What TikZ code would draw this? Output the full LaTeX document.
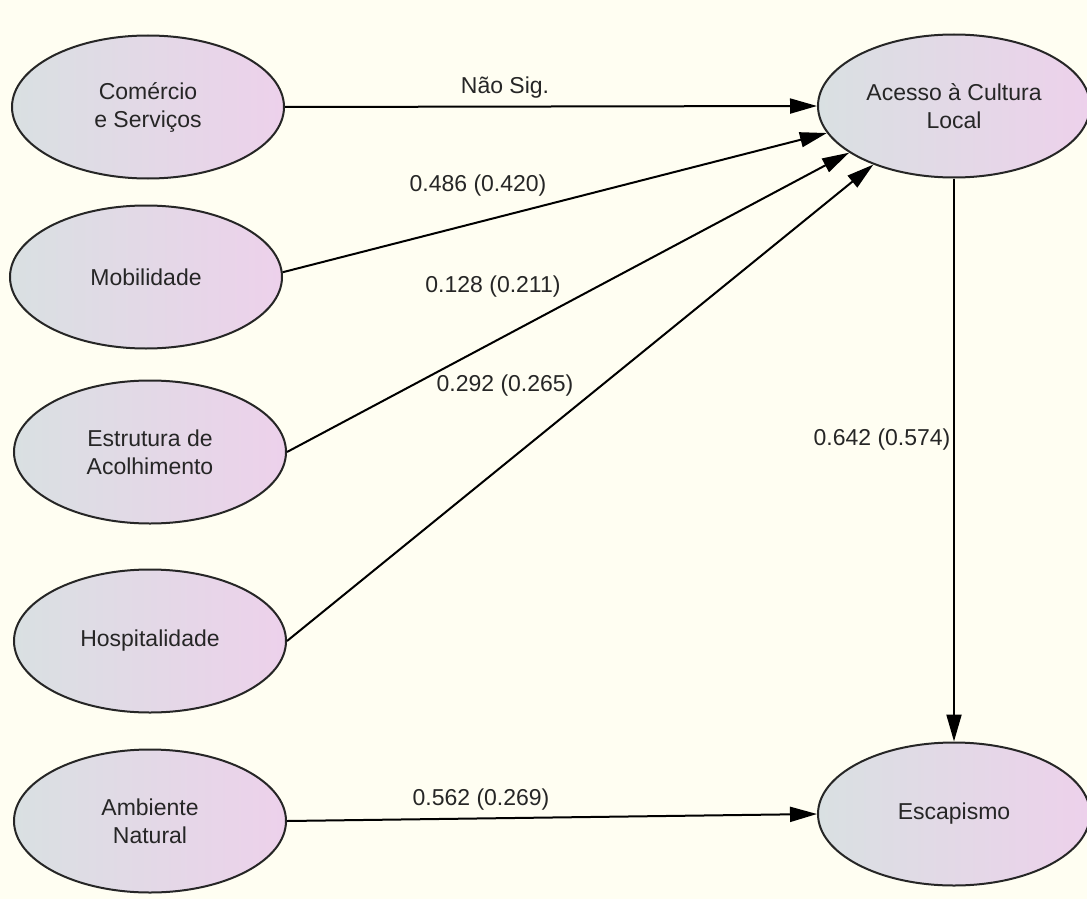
\documentclass[tikz,border=0pt]{standalone}
\usepackage{fontspec}
\setmainfont{Liberation Sans}
\usetikzlibrary{arrows.meta,shapes.geometric}
\definecolor{bg}{HTML}{FFFEF2}
\definecolor{elL}{HTML}{D9E0E2}
\definecolor{elR}{HTML}{EDD1EB}
\definecolor{txt}{HTML}{262626}
\begin{document}
\begin{tikzpicture}[x=1pt,y=-1pt,
  lv/.style={ellipse, draw=black!85, line width=2pt, minimum width=272pt, minimum height=143pt,
    left color=elL, right color=elR, align=center, font=\fontsize{23}{28}\selectfont, text=txt, inner sep=0pt},
  conn/.style={line width=2pt, black, -{Triangle[length=27pt,width=15pt]}},
  lbl/.style={font=\fontsize{23}{28}\selectfont, text=txt}]
\fill[bg] (0,0) rectangle (1087,899);
\useasboundingbox (0,0) rectangle (1087,899);
\node[lv] (com) at (148,107) {Comércio\\e Serviços};
\node[lv] (mob) at (146,277) {Mobilidade};
\node[lv] (est) at (150,452) {Estrutura de\\Acolhimento};
\node[lv] (hos) at (150,641) {Hospitalidade};
\node[lv] (amb) at (150,821) {Ambiente\\Natural};
\node[lv] (acc) at (954,106) {Acesso à Cultura\\Local};
\node[lv] (esc) at (954,814) {Escapismo};
\draw[conn] (com.east) -- (acc.west);
\draw[conn] (mob.2) -- (acc.192);
\draw[conn] (est.east) -- (acc.204);
\draw[conn] (hos.east) -- (acc.216);
\draw[conn] (acc.south) -- (esc.north);
\draw[conn] (amb.east) -- (esc.west);
\node[lbl] (l1) at (505,88) {Não Sig.};
\node[lbl] (l2) at (478,186) {0.486 (0.420)};
\node[lbl] (l3) at (493,287) {0.128 (0.211)};
\node[lbl] (l4) at (505,386) {0.292 (0.265)};
\node[lbl] (l5) at (882,440) {0.642 (0.574)};
\node[lbl] (l6) at (481,800) {0.562 (0.269)};
\end{tikzpicture}
\end{document}
